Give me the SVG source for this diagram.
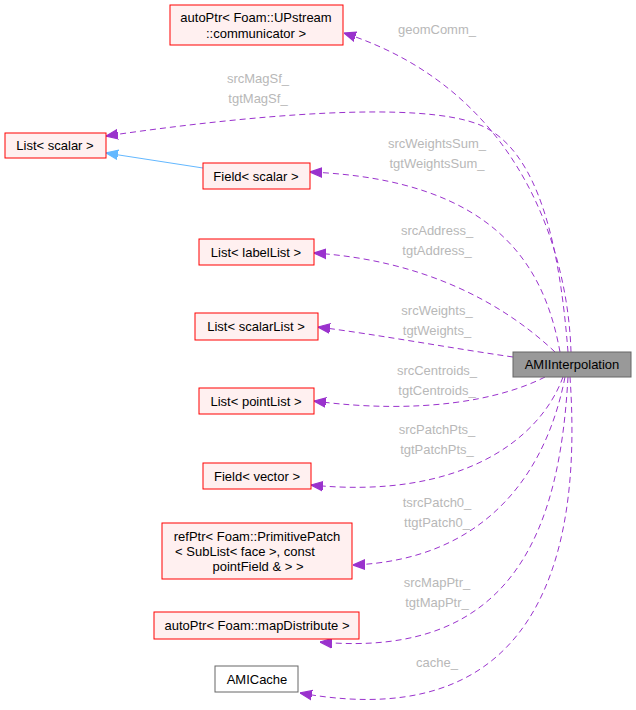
<svg xmlns="http://www.w3.org/2000/svg" width="636" height="710" viewBox="0 0 636 710">
<style>
.n rect{fill:#fff0f0;stroke:#ff0000;stroke-width:1}
text{font-family:"Liberation Sans",Arial,sans-serif;font-size:13px;text-anchor:middle}
.l{fill:#b8b8b8}
.e{fill:none;stroke:#9a32cd;stroke-dasharray:6,4}
</style>
<defs>
<marker id="a" viewBox="0 0 10 10" refX="10" refY="5" markerWidth="12" markerHeight="12" orient="auto-start-reverse" markerUnits="userSpaceOnUse"><path d="M0,1 L10,5 L0,9 z" fill="#9a32cd" stroke="#9a32cd"/></marker>
<marker id="b" viewBox="0 0 10 10" refX="10" refY="5" markerWidth="12" markerHeight="12" orient="auto-start-reverse" markerUnits="userSpaceOnUse"><path d="M0,1 L10,5 L0,9 z" fill="#63b8ff" stroke="#63b8ff"/></marker>
</defs>
<rect width="636" height="710" fill="#fff"/>
<g id="edges">
<path class="e" marker-end="url(#a)" d="M571,352 C568,250 520,90 344,33"/>
<path class="e" marker-end="url(#a)" d="M568,352 C560,250 540,150 480,125 C420,100 250,115 106,136"/>
<path class="e" marker-end="url(#a)" d="M560,352 C545,270 500,180 310,172"/>
<path class="e" marker-end="url(#a)" d="M555,352 C500,300 420,260 314,253"/>
<path class="e" marker-end="url(#a)" d="M513,357 C450,348 380,335 318,327"/>
<path class="e" marker-end="url(#a)" d="M545,377 C500,400 420,415 314,401"/>
<path class="e" marker-end="url(#a)" d="M563,377 C540,440 460,500 311,485"/>
<path class="e" marker-end="url(#a)" d="M565,377 C545,480 480,560 353,565"/>
<path class="e" marker-end="url(#a)" d="M568,377 C560,520 520,660 320,642"/>
<path class="e" marker-end="url(#a)" d="M570,377 C580,520 560,740 300,693"/>
<path fill="none" stroke="#63b8ff" marker-end="url(#b)" d="M203,168 L106,153"/>
<text class="l" x="437" y="34">geomComm_</text>
<text class="l" x="258" y="83">srcMagSf_</text><text class="l" x="258" y="103">tgtMagSf_</text>
<text class="l" x="437" y="148">srcWeightsSum_</text><text class="l" x="437" y="168">tgtWeightsSum_</text>
<text class="l" x="437" y="235">srcAddress_</text><text class="l" x="437" y="255">tgtAddress_</text>
<text class="l" x="437" y="315">srcWeights_</text><text class="l" x="437" y="335">tgtWeights_</text>
<text class="l" x="437" y="375">srcCentroids_</text><text class="l" x="437" y="395">tgtCentroids_</text>
<text class="l" x="437" y="434">srcPatchPts_</text><text class="l" x="437" y="454">tgtPatchPts_</text>
<text class="l" x="437" y="507">tsrcPatch0_</text><text class="l" x="437" y="527">ttgtPatch0_</text>
<text class="l" x="437" y="587">srcMapPtr_</text><text class="l" x="437" y="607">tgtMapPtr_</text>
<text class="l" x="437" y="667">cache_</text>
</g>
<g id="n1" class="n"><rect x="170" y="5" width="173" height="40"/><text x="256" y="22">autoPtr&lt; Foam::UPstream</text><text x="256" y="38">::communicator &gt;</text></g>
<g id="n2" class="n"><rect x="5" y="133" width="101" height="25"/><text x="55" y="150">List&lt; scalar &gt;</text></g>
<g id="n3" class="n"><rect x="203" y="163" width="107" height="26"/><text x="256" y="181">Field&lt; scalar &gt;</text></g>
<g id="n4" class="n"><rect x="199" y="239" width="115" height="26"/><text x="256" y="257">List&lt; labelList &gt;</text></g>
<g id="n5" class="n"><rect x="195" y="313" width="123" height="27"/><text x="256" y="331">List&lt; scalarList &gt;</text></g>
<g id="n6" class="n"><rect x="199" y="388" width="115" height="26"/><text x="256" y="406">List&lt; pointList &gt;</text></g>
<g id="n7" class="n"><rect x="203" y="463" width="108" height="26"/><text x="257" y="481">Field&lt; vector &gt;</text></g>
<g id="n8" class="n"><rect x="162" y="523" width="190" height="56"/><text x="257" y="541">refPtr&lt; Foam::PrimitivePatch</text><text x="245" y="556">&lt; SubList&lt; face &gt;, const</text><text x="258" y="571">pointField &amp; &gt; &gt;</text></g>
<g id="n9" class="n"><rect x="154" y="612" width="205" height="27"/><text x="257" y="630">autoPtr&lt; Foam::mapDistribute &gt;</text></g>
<g id="n10"><rect x="215" y="666" width="83" height="26" fill="#fff" stroke="#666"/><text x="257" y="684">AMICache</text></g>
<g id="n11"><rect x="513" y="352" width="118" height="25" fill="#999" stroke="#666"/><text x="572" y="369">AMIInterpolation</text></g>
</svg>
